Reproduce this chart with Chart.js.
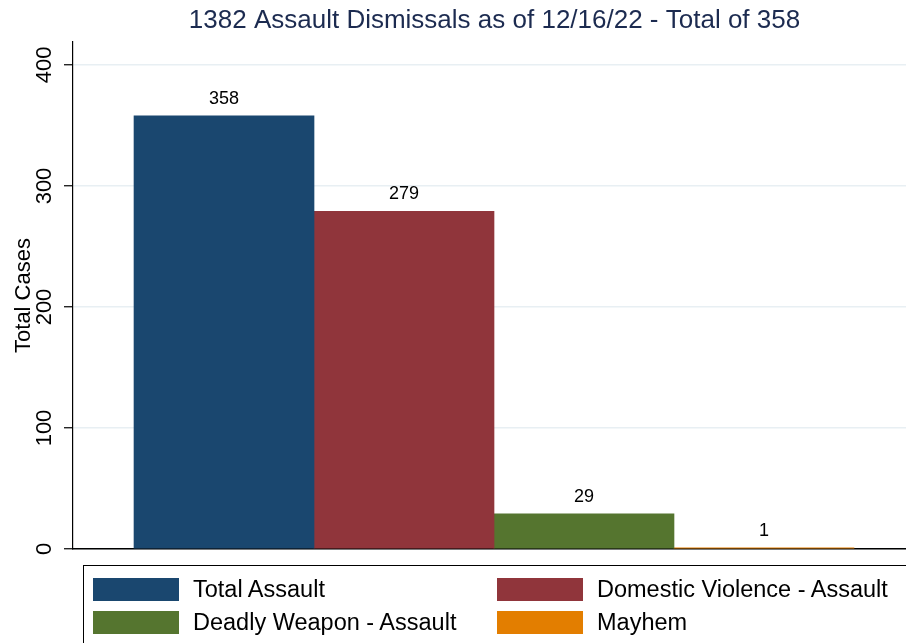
<!DOCTYPE html>
<html>
<head>
<meta charset="utf-8">
<script src="https://cdn.jsdelivr.net/npm/chart.js@4.4.0/dist/chart.umd.min.js"></script>
<style>
    body { margin: 0; background: #fff; font-family: Helvetica, "Liberation Sans", Arial, sans-serif; }
    #wrap { position: relative; width: 906px; height: 643px; overflow: hidden; }
    #legend {
        position: absolute; left: 83px; top: 565px; width: 900px; height: 120px;
        border: 1.5px solid #000; box-sizing: border-box;
    }
    .item { position: absolute; height: 24px; display: flex; align-items: center; font-size: 23.5px; color: #000; white-space: nowrap; }
    .swatch { width: 86px; height: 23px; box-sizing: border-box; margin-right: 14px; }
</style>
</head>
<body>
<div id="wrap">
    <canvas id="barChart" width="906" height="643"></canvas>
    <div id="legend"></div>
</div>
<script>
const chartTitle = '1382 Assault Dismissals as of 12/16/22 - Total of 358';
const categories = ['Total Assault', 'Domestic Violence - Assault', 'Deadly Weapon - Assault', 'Mayhem'];
const totals = [358, 279, 29, 1];
const barColors = ['#1a476f', '#90353b', '#55752f', '#e37e00'];
const yTicks = [0, 100, 200, 300, 400];

// one dataset per bar so each gets its own legend entry
const datasets = categories.map((name, i) => ({
    label: name,
    data: [{ x: i + 1, y: totals[i] }],
    backgroundColor: barColors[i],
    borderWidth: 0
}));

const titlePlugin = {
    id: 'stataTitle',
    afterDraw: (chart) => {
        const ctx = chart.ctx;
        const area = chart.chartArea;
        ctx.save();
        ctx.font = '26px Helvetica, "Liberation Sans", Arial, sans-serif';
        ctx.fillStyle = '#1c2b50';
        ctx.textAlign = 'center';
        ctx.textBaseline = 'middle';
        ctx.fillText(chartTitle, (area.left + area.right) / 2 + 5, 21);
        ctx.restore();
    }
};

const valueLabels = {
    id: 'valueLabels',
    afterDatasetsDraw: (chart) => {
        const ctx = chart.ctx;
        ctx.save();
        ctx.font = '18px Helvetica, "Liberation Sans", Arial, sans-serif';
        ctx.fillStyle = '#000';
        ctx.textAlign = 'center';
        ctx.textBaseline = 'middle';
        chart.data.datasets.forEach((ds, i) => {
            chart.getDatasetMeta(i).data.forEach((bar, j) => {
                ctx.fillText(ds.data[j].y, bar.x, bar.y - 17);
            });
        });
        ctx.restore();
    }
};

const barChart = new Chart(document.getElementById('barChart'), {
    type: 'bar',
    data: { datasets: datasets },
    plugins: [titlePlugin, valueLabels],
    options: {
        responsive: false,
        animation: false,
        devicePixelRatio: 1,
        layout: { padding: { top: 42, bottom: 94, left: 0, right: 0 } },
        datasets: { bar: { grouped: false, barPercentage: 1, categoryPercentage: 1 } },
        plugins: {
            legend: { display: false },
            tooltip: { enabled: false }
        },
        scales: {
            x: {
                type: 'linear',
                offset: false,
                min: 0.161,
                max: 4.789,
                ticks: { display: false, stepSize: 1, includeBounds: false },
                grid: { display: false, drawTicks: false, offset: false },
                border: { color: '#000', width: 1.5 }
            },
            y: {
                min: 0,
                max: 419,
                afterFit: (scale) => { scale.width = 73; },
                afterBuildTicks: (scale) => { scale.ticks = yTicks.map(v => ({ value: v })); },
                ticks: {
                    stepSize: 100,
                    includeBounds: false,
                    minRotation: 90,
                    maxRotation: 90,
                    crossAlign: 'center',
                    padding: 1,
                    color: '#000',
                    font: { family: 'Helvetica, "Liberation Sans", Arial, sans-serif', size: 22 }
                },
                grid: { color: '#e8eff3', lineWidth: 1.5, tickColor: '#000', tickLength: 9, tickWidth: 1.2 },
                border: { color: '#000', width: 1.2 },
                title: {
                    display: true,
                    text: 'Total Cases',
                    color: '#000',
                    padding: { top: 11, bottom: 0 },
                    font: { family: 'Helvetica, "Liberation Sans", Arial, sans-serif', size: 22 }
                }
            }
        }
    }
});

// legend: two columns in a box below the plot
const legendEl = document.getElementById('legend');
const colLeft = [9, 413];
const rowTop = [11, 44];
categories.forEach((name, i) => {
    const item = document.createElement('div');
    item.className = 'item';
    item.style.left = colLeft[i % 2] + 'px';
    item.style.top = rowTop[Math.floor(i / 2)] + 'px';
    const sw = document.createElement('span');
    sw.className = 'swatch';
    sw.style.background = barColors[i];
    item.appendChild(sw);
    item.appendChild(document.createTextNode(name));
    legendEl.appendChild(item);
});
</script>
</body>
</html>
